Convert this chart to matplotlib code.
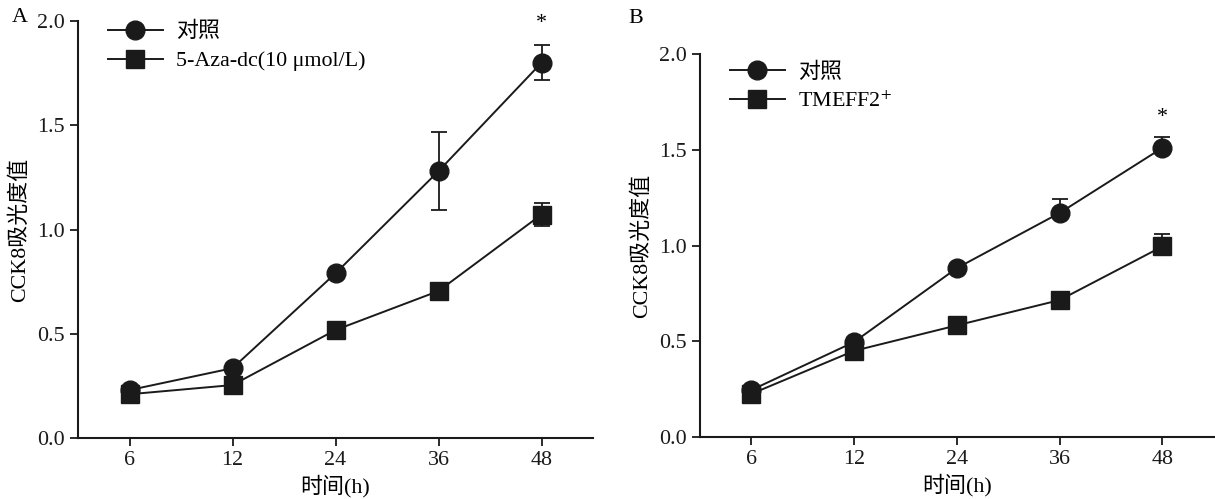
import matplotlib
matplotlib.use("Agg")
import matplotlib.pyplot as plt
import numpy as np

plt.rcParams["font.family"] = ["Liberation Serif", "Noto Sans CJK SC"]
plt.rcParams["mathtext.fontset"] = "stix"

TIMES = ["6", "12", "24", "36", "48"]

# panel A
a_ctrl = [0.23, 0.335, 0.79, 1.28, 1.80]
a_ctrl_err = [0.0, 0.0, 0.0, 0.187, 0.085]
a_aza = [0.21, 0.254, 0.518, 0.705, 1.072]
a_aza_err = [0.0, 0.0, 0.0, 0.0, 0.055]
a_labels = ["对照", "5-Aza-dc(10 μmol/L)"]
a_star = 1.99

# panel B (only upper error bars visible)
b_ctrl = [0.245, 0.496, 0.882, 1.17, 1.51]
b_ctrl_err = [0.0, 0.0, 0.0, 0.073, 0.057]
b_tm = [0.225, 0.45, 0.583, 0.715, 0.995]
b_tm_err = [0.0, 0.0, 0.0, 0.0, 0.065]
b_labels = ["对照", "TMEFF2$^{+}$"]
b_star = 1.67

FS = 15.8


def panel(ax, ctrl, ctrl_err, trt, trt_err, labels, star, upper_only, leg_y):
    x = np.arange(len(TIMES))
    for y, e, m, lab in ((ctrl, ctrl_err, "o", labels[0]), (trt, trt_err, "s", labels[1])):
        e = np.array(e)
        yerr = np.vstack([np.zeros_like(e), e]) if upper_only else e
        ax.errorbar(x, y, yerr=yerr, fmt="none", ecolor="#1a1a1a", elinewidth=1.3,
                    capsize=6, capthick=1.3, zorder=2)
        ax.plot(x, y, color="#1a1a1a", lw=1.4, marker=m, ms=13.5, mfc="#1a1a1a",
                mec="#1a1a1a", label=lab, zorder=3)
    ax.text(4, star, "*", ha="center", va="center", fontsize=FS)
    ax.set_xlim(-0.5, 4.5)
    ax.set_ylim(0, 2.0)
    ax.set_xticks(x)
    ax.set_xticklabels(TIMES)
    ax.set_yticks([0, 0.5, 1.0, 1.5, 2.0])
    ax.set_yticklabels(["0.0", "0.5", "1.0", "1.5", "2.0"])
    ax.spines["top"].set_visible(False)
    ax.spines["right"].set_visible(False)
    for s in ("left", "bottom"):
        ax.spines[s].set_linewidth(1.5)
        ax.spines[s].set_color("#1a1a1a")
    ax.tick_params(direction="out", length=6, width=1.3, labelsize=FS, colors="#1a1a1a")
    ax.set_xlabel("时间(h)", fontsize=FS, labelpad=3)
    ax.set_ylabel("CCK8吸光度值", fontsize=FS, labelpad=5)
    ax.legend(loc="upper left", bbox_to_anchor=(0.02, leg_y), frameon=False, fontsize=FS,
              handlelength=2.5, handletextpad=0.6, labelspacing=0.4)


fig = plt.figure(figsize=(12.15, 4.99), dpi=100)
ax1 = fig.add_axes([0.0642, 0.1222, 0.4239, 0.8357])
ax2 = fig.add_axes([0.576, 0.1242, 0.423, 0.7675])

panel(ax1, a_ctrl, a_ctrl_err, a_aza, a_aza_err, a_labels, a_star, False, 1.045)
panel(ax2, b_ctrl, b_ctrl_err, b_tm, b_tm_err, b_labels, b_star, True, 1.03)

fig.text(0.010, 0.965, "A", fontsize=FS, va="center")
fig.text(0.517, 0.963, "B", fontsize=FS, va="center")

fig.savefig("out.png", dpi=100)
